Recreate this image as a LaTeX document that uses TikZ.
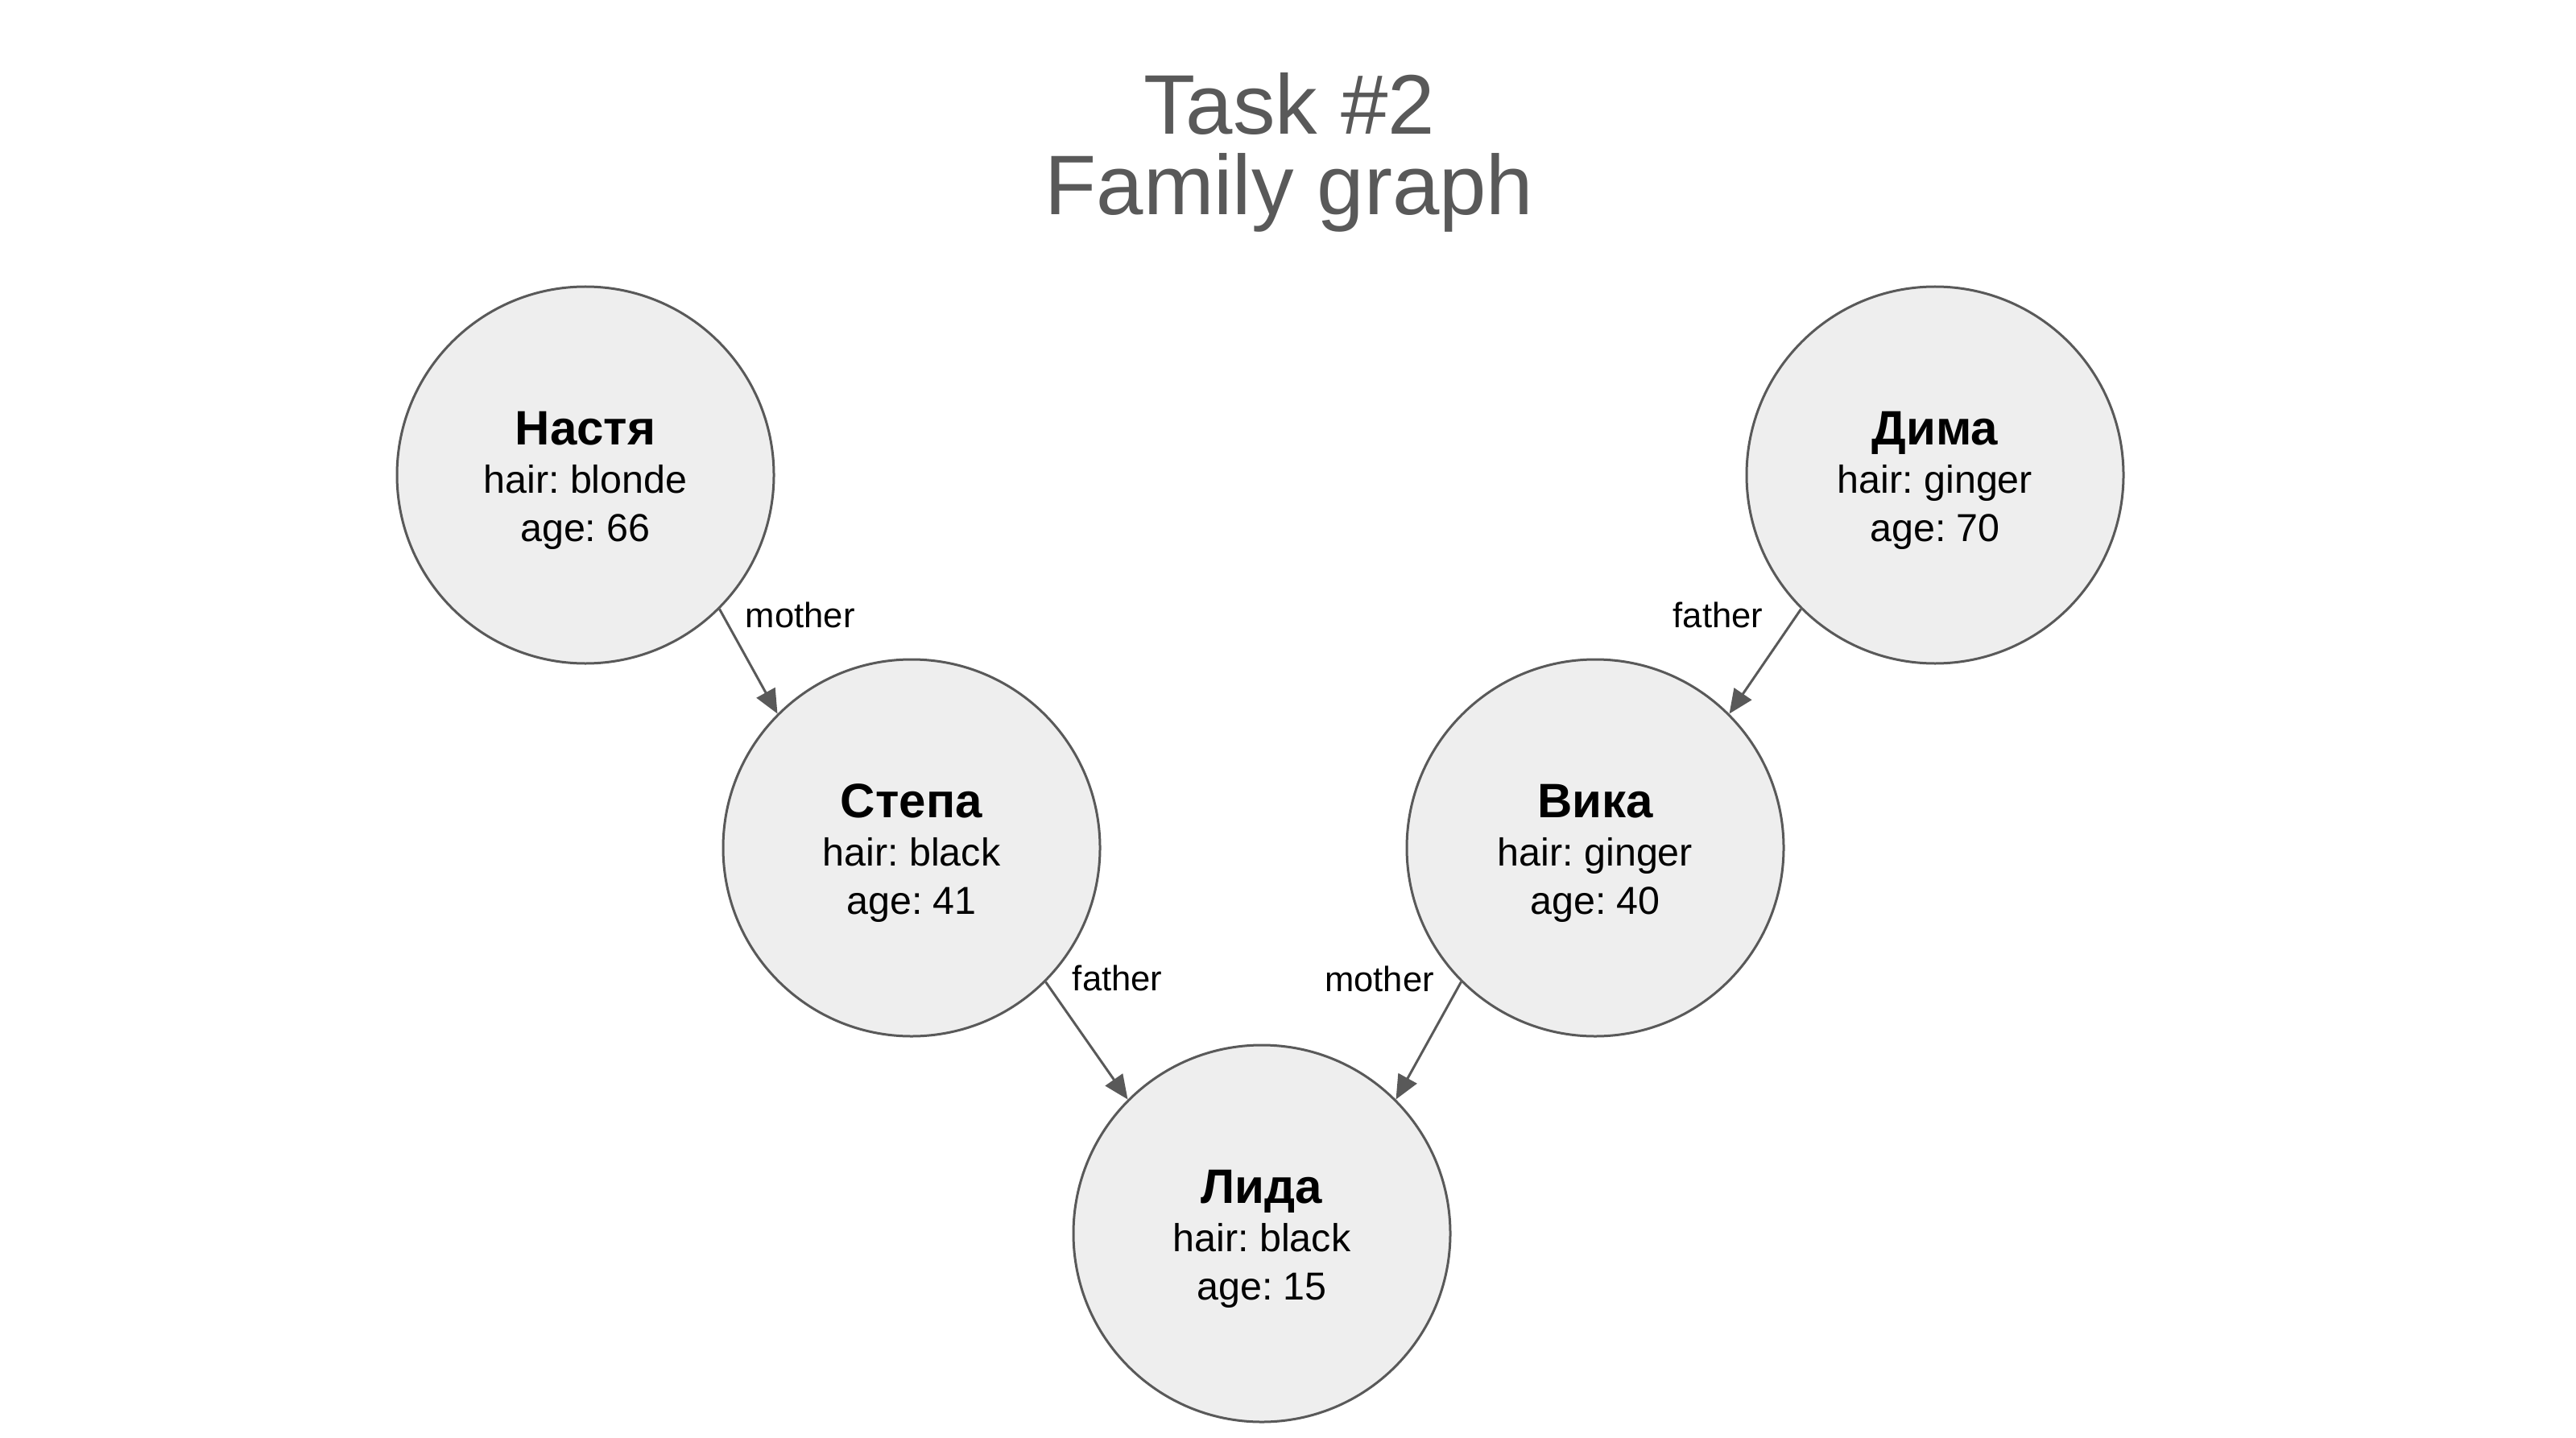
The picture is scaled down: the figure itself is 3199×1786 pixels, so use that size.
\documentclass[tikz,border=0pt]{standalone}
\usepackage{fontspec}
\setmainfont{Liberation Sans}
\frenchspacing
\usetikzlibrary{
    arrows.meta,
    positioning
}
\definecolor{line gray}{HTML}{595959}
\definecolor{node gray}{HTML}{EEEEEE}
\tikzset{
    % Colors
    title style/.style={text=line gray, align=center, font=\fontsize{26.25}{25}\selectfont},
    %
    % Nodes
    person/.style={circle, draw=line gray, fill=node gray, line width=0.75pt,
        minimum size=117pt, inner sep=0pt, align=center,
        font=\fontsize{12.1}{15}\selectfont},
    rel label/.style={inner sep=0pt, font=\fontsize{10.9}{13}\selectfont},
    %
    % Arrows
    arrow tip/.tip={Triangle[length=7.5pt,width=6.5pt]},
    arr/.style={->,>={arrow tip}, draw=line gray, line width=0.75pt}
}

\begin{document}
\begin{tikzpicture}[x=0.25pt, y=-0.25pt]
    \useasboundingbox (0,0) rectangle (3199,1786);

    \node[title style, anchor=base] (title) at (1601,267) {Task \#2\\Family graph};

    \node[person] (nastya) at (727,590) {\rule{0pt}{14pt}\textbf{\fontsize{15}{15}\selectfont Настя}\\hair: blonde\\age: 66};
    \node[person] (stepa) at (1132,1053) {\rule{0pt}{14pt}\textbf{\fontsize{15}{15}\selectfont Степа}\\hair: black\\age: 41};
    \node[person] (lida) at (1567,1532) {\rule{0pt}{14pt}\textbf{\fontsize{15}{15}\selectfont Лида}\\hair: black\\age: 15};
    \node[person] (vika) at (1981,1053) {\rule{0pt}{14pt}\textbf{\fontsize{15}{15}\selectfont Вика}\\hair: ginger\\age: 40};
    \node[person] (dima) at (2403,590) {\rule{0pt}{14pt}\textbf{\fontsize{15}{15}\selectfont Дима}\\hair: ginger\\age: 70};

    \draw[arr] (nastya.-45) -- node[rel label, pos=0.178, anchor=base west, xshift=4.5pt] (mom1) {mother} (stepa.135);
    \draw[arr] (stepa.-45) -- node[rel label, pos=0.078, anchor=base west, xshift=6pt] (dad1) {father} (lida.135);
    \draw[arr] (vika.-135) -- node[rel label, pos=0.084, anchor=base east, xshift=-6.3pt] (mom2) {mother} (lida.45);
    \draw[arr] (dima.-135) -- node[rel label, pos=0.178, anchor=base east, xshift=-7.5pt] (dad2) {father} (vika.45);
\end{tikzpicture}
\end{document}
